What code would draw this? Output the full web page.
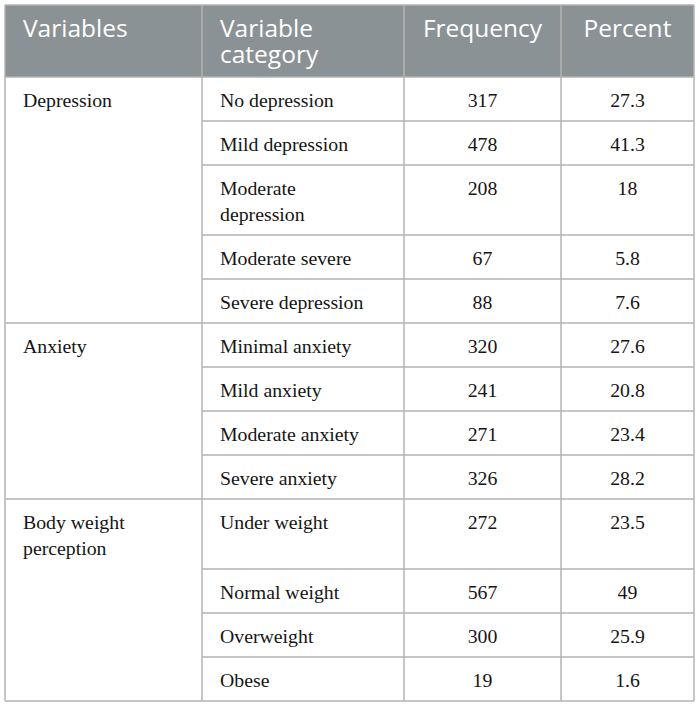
<!DOCTYPE html>
<html lang="en">
  <head>
    <meta charset="UTF-8" />
    <title>Depression, anxiety and body weight perception</title>
    <script src="https://cdn.jsdelivr.net/npm/d3@7"></script>
    <style>
      body {
        margin: 0;
        background: #ffffff;
      }
    </style>
  </head>
  <body>
    <div id="main-div"></div>
    <script>
      // table data
      const headers = [["Variables"], ["Variable", "category"], ["Frequency"], ["Percent"]];
      const groups = [["Depression"], ["Anxiety"], ["Body weight", "perception"]];
      const groupSizes = [5, 4, 4];
      const categories = [
        ["No depression"],
        ["Mild depression"],
        ["Moderate", "depression"],
        ["Moderate severe"],
        ["Severe depression"],
        ["Minimal anxiety"],
        ["Mild anxiety"],
        ["Moderate anxiety"],
        ["Severe anxiety"],
        ["Under weight"],
        ["Normal weight"],
        ["Overweight"],
        ["Obese"],
      ];
      const frequency = [317, 478, 208, 67, 88, 320, 241, 271, 326, 272, 567, 300, 19];
      const percent = ["27.3", "41.3", "18", "5.8", "7.6", "27.6", "20.8", "23.4", "28.2", "23.5", "49", "25.9", "1.6"];

      let width = 700;
      let height = 705;
      let colEdges = [5, 202, 404, 561, 694];
      let tableTop = 5;
      let headerH = 72;
      let rowH = 44;
      let lineH = 26;
      let pad = 18;
      let border = "#b3b3b3";

      // build rows, first row of each group carries the group label
      let rows = [];
      let gi = 0;
      let start = 0;
      categories.forEach((cat, i) => {
        if (i === start + groupSizes[gi]) {
          start = i;
          gi++;
        }
        let first = i === start;
        let nLines = Math.max(cat.length, first ? groups[gi].length : 1);
        rows.push({
          cat: cat,
          freq: frequency[i],
          pct: percent[i],
          group: first ? groups[gi] : null,
          h: rowH + (nLines - 1) * lineH,
        });
      });
      let y = tableTop + headerH;
      rows.forEach((r) => {
        r.y = y;
        y += r.h;
      });
      let bottom = y;

      let svg = d3
        .select("#main-div")
        .append("svg")
        .attr("width", width)
        .attr("height", height);

      // header
      svg
        .append("rect")
        .attr("x", colEdges[0])
        .attr("y", tableTop)
        .attr("width", colEdges[4] - colEdges[0])
        .attr("height", headerH)
        .attr("fill", "#8b9295");

      let head = svg
        .selectAll(".head")
        .data(headers)
        .enter()
        .append("text")
        .attr("class", "head")
        .attr("font-family", "'Open Sans', sans-serif")
        .attr("font-size", "24.5px")
        .attr("fill", "#ffffff")
        .attr("text-anchor", (d, i) => (i < 2 ? "start" : "middle"));
      head
        .selectAll("tspan")
        .data((d, i) =>
          d.map((l) => ({
            l: l,
            x: i < 2 ? colEdges[i] + pad : (colEdges[i] + colEdges[i + 1]) / 2,
          }))
        )
        .enter()
        .append("tspan")
        .attr("x", (e) => e.x)
        .attr("y", (e, i) => tableTop + 32 + i * 26)
        .text((e) => e.l);

      // body cells
      let serif = "'Liberation Serif', 'Times New Roman', serif";
      let body = svg.append("g");

      function multiline(sel, xFn, anchor, linesFn) {
        let t = sel
          .append("text")
          .attr("font-family", serif)
          .attr("font-size", "19.8px")
          .attr("fill", "#151515")
          .attr("text-anchor", anchor);
        t.selectAll("tspan")
          .data((d) => linesFn(d).map((l) => ({ l: l, d: d })))
          .enter()
          .append("tspan")
          .attr("x", (e) => xFn(e.d))
          .attr("y", (e, i) => e.d.y + 30 + i * lineH)
          .text((e) => e.l);
      }

      let rowSel = body.selectAll(".row").data(rows).enter().append("g").attr("class", "row");
      multiline(rowSel, () => colEdges[1] + pad, "start", (d) => d.cat);
      multiline(rowSel, () => (colEdges[2] + colEdges[3]) / 2, "middle", (d) => [String(d.freq)]);
      multiline(rowSel, () => (colEdges[3] + colEdges[4]) / 2, "middle", (d) => [d.pct]);

      let groupRows = rows.filter((r) => r.group);
      let groupSel = body.selectAll(".grp").data(groupRows).enter().append("g").attr("class", "grp");
      multiline(groupSel, () => colEdges[0] + pad, "start", (d) => d.group);

      // grid lines
      let grid = svg.append("g").attr("stroke", border).attr("stroke-width", 1.5);
      rows.forEach((r, i) => {
        if (i === 0) return;
        grid
          .append("line")
          .attr("x1", r.group ? colEdges[0] : colEdges[1])
          .attr("x2", colEdges[4])
          .attr("y1", r.y)
          .attr("y2", r.y);
      });
      colEdges.forEach((x) => {
        grid
          .append("line")
          .attr("x1", x)
          .attr("x2", x)
          .attr("y1", tableTop)
          .attr("y2", bottom);
      });
      [tableTop, tableTop + headerH, bottom].forEach((yy) => {
        grid
          .append("line")
          .attr("x1", colEdges[0])
          .attr("x2", colEdges[4])
          .attr("y1", yy)
          .attr("y2", yy);
      });
    </script>
  </body>
</html>
